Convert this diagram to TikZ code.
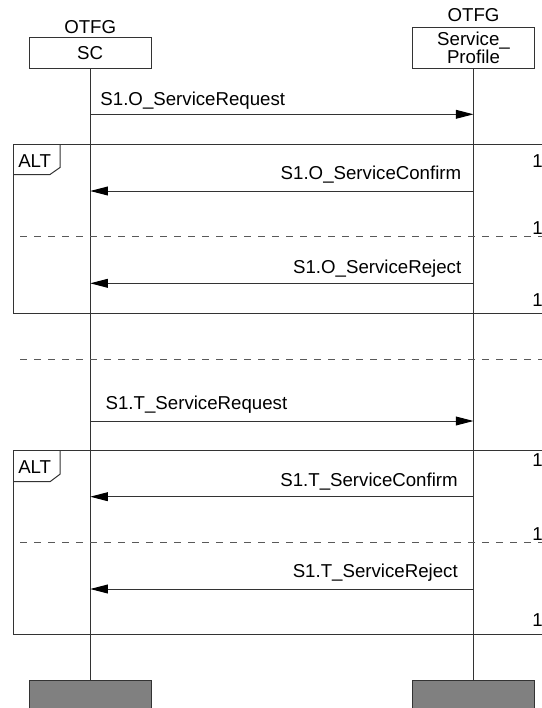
\documentclass[tikz,border=0pt]{standalone}
\usepackage{fontspec}
\setmainfont{Liberation Sans}
\usetikzlibrary{arrows.meta,positioning}
\begin{document}
\begin{tikzpicture}[x=0.75pt,y=-0.75pt,font=\fontsize{14}{13.2}\selectfont,
  line/.style={draw=black!80,line width=0.75pt},
  head/.style={line,inner sep=0pt,minimum width=91.8pt,align=center},
  foot/.style={line,fill=black!50,minimum width=91.8pt,minimum height=30pt},
  msg/.style={line,-{Triangle[length=13.2pt,width=6.6pt,color=black]}},
  sep/.style={draw=black!65,line width=0.75pt,dash pattern=on 5.5pt off 5pt},
  lbl/.style={inner sep=0pt}]
\useasboundingbox (0,0) rectangle (542,708);
\node[head,minimum height=23pt] (sc) at (90.2,53) {SC};
\node[head,minimum height=30.75pt] (sp) at (473.5,47.8) {Service\_\\Profile};
\node[lbl,above=2.5pt of sc] (sco) {OTFG};
\node[lbl,above=3.5pt of sp] (spo) {OTFG};
\node[foot,anchor=north] (scf) at (90.2,680) {};
\node[foot,anchor=north] (spf) at (473.5,680) {};
\draw[line] (sc) -- (scf);
\draw[line] (sp) -- (spf);
\draw[msg] (sc |- 0,114.3) -- (sp |- 0,114.3);
\node[lbl,anchor=base west] (m1) at (100.2,105) {S1.O\_ServiceRequest};
\draw[line] (13.5,144.3) rectangle (560,313);
\draw[line] (13.5,174.5) -- (50,174.5) -- (60,167.5) -- (60,144.3);
\node[lbl,anchor=base west] (alt1) at (18,167.3) {ALT};
\draw[msg] (sp |- 0,191) -- (sc |- 0,191);
\node[lbl,anchor=base east] (m2) at (461.5,179) {S1.O\_ServiceConfirm};
\draw[sep] (20,236.7) -- (545,236.7);
\draw[msg] (sp |- 0,283.3) -- (sc |- 0,283.3);
\node[lbl,anchor=base east] (m3) at (461.5,273.5) {S1.O\_ServiceReject};
\draw[sep] (20,359) -- (545,359);
\draw[msg] (sc |- 0,421) -- (sp |- 0,421);
\node[lbl,anchor=base west] (m4) at (105.4,409.2) {S1.T\_ServiceRequest};
\draw[line] (13.5,450.7) rectangle (560,634.3);
\draw[line] (13.5,481.7) -- (50,481.7) -- (60,474.2) -- (60,450.7);
\node[lbl,anchor=base west] (alt2) at (18,473.3) {ALT};
\draw[msg] (sp |- 0,496.7) -- (sc |- 0,496.7);
\node[lbl,anchor=base east] (m5) at (458,486) {S1.T\_ServiceConfirm};
\draw[sep] (20,542.7) -- (545,542.7);
\draw[msg] (sp |- 0,589) -- (sc |- 0,589);
\node[lbl,anchor=base east] (m6) at (458,577.2) {S1.T\_ServiceReject};
\foreach \y [count=\i] in {167.3,234,306,466.5,540,626}
  \node[lbl,anchor=base west] (n\i) at (532,\y) {1};
\end{tikzpicture}
\end{document}
